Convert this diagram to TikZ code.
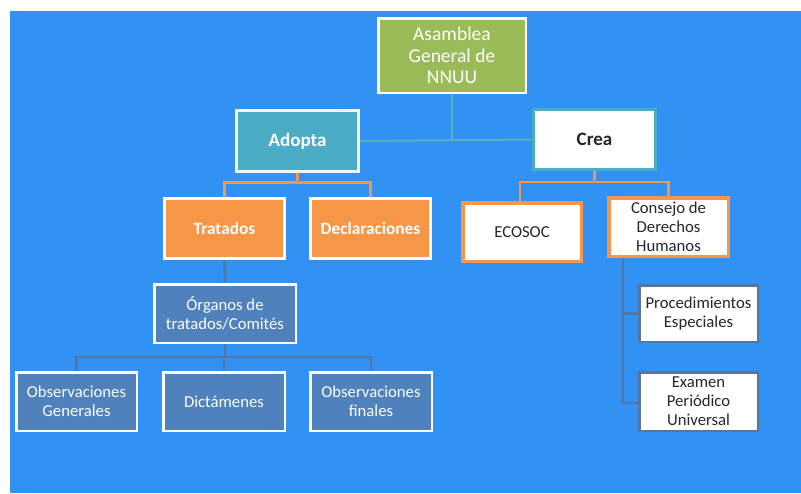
\documentclass[tikz,border=0pt]{standalone}
\usepackage{fontspec}
\setmainfont{Carlito}
\usetikzlibrary{backgrounds}
\definecolor{bgblue}{RGB}{50,146,243}
\definecolor{agreen}{RGB}{155,187,89}
\definecolor{ateal}{RGB}{75,172,198}
\definecolor{aorange}{RGB}{247,150,70}
\definecolor{aslate}{RGB}{79,129,189}
\definecolor{slateline}{RGB}{86,117,160}
\definecolor{tealline}{RGB}{88,176,190}
\definecolor{darktext}{RGB}{38,38,38}
\tikzset{
  box/.style={rectangle, inner sep=2pt, outer sep=0pt, align=center, font=\fontsize{16.7}{19}\selectfont},
  greenbox/.style={box, fill=agreen, draw=white, line width=2.5pt, text=white, font=\fontsize{19.5}{21.5}\selectfont},
  tealbox/.style={box, fill=ateal, draw=white!92!gray, line width=3pt, text=white, font=\bfseries\fontsize{19}{21}\selectfont},
  creabox/.style={box, fill=white, draw=ateal, line width=3pt, text=darktext, font=\bfseries\fontsize{19}{21}\selectfont},
  orangebox/.style={box, fill=aorange, draw=white, line width=3pt, text=white, font=\bfseries\fontsize{17.3}{19}\selectfont},
  orangeedge/.style={box, fill=white, draw=aorange, line width=3.5pt, text=darktext},
  slatebox/.style={box, fill=aslate, draw=white, line width=2.5pt, text=white},
  whitebox/.style={box, fill=white, draw=slateline, line width=2.5pt, text=darktext},
  tline/.style={draw=tealline, line width=2pt},
  oline/.style={draw=aorange, line width=2.5pt},
  sline/.style={draw=slateline, line width=2.5pt},
}
\begin{document}
\begin{tikzpicture}[x=1pt,y=-1pt]
\useasboundingbox (0,0) rectangle (801,493);

\node[greenbox, minimum width=147.5pt, minimum height=74.5pt] (asam) at (452,55.5) {Asamblea\\General de\\NNUU};
\node[tealbox, minimum width=122pt, minimum height=61pt] (adopta) at (297.5,141) {Adopta};
\node[creabox, minimum width=122pt, minimum height=60pt] (crea) at (594.5,139.5) {Crea};

\node[orangebox, minimum width=120pt, minimum height=60pt] (trat) at (224.5,228.5) {Tratados};
\node[orangebox, minimum width=120pt, minimum height=60pt] (decl) at (370.5,228.5) {Declaraciones};

\node[orangeedge, minimum width=118.5pt, minimum height=58.5pt] (ecosoc) at (522,232) {ECOSOC};
\node[orangeedge, minimum width=119.5pt, minimum height=58.5pt] (consejo) at (668.5,227) {Consejo de\\Derechos\\Humanos};

\node[slatebox, minimum width=141.5pt, minimum height=58.5pt] (org) at (225,313.5) {Órganos de\\tratados/Comités};

\node[slatebox, minimum width=120.5pt, minimum height=58.5pt] (obsg) at (76.5,401.5) {Observaciones\\Generales};
\node[slatebox, minimum width=121.5pt, minimum height=58.5pt] (dict) at (224,401.5) {Dictámenes};
\node[slatebox, minimum width=121.5pt, minimum height=58.5pt] (obsf) at (371,401.5) {Observaciones\\finales};

\node[whitebox, minimum width=118.5pt, minimum height=56.5pt] (proc) at (698.5,313.5) {Procedimientos\\Especiales};
\node[whitebox, minimum width=118.5pt, minimum height=58.5pt] (exam) at (698.5,401.5) {Examen\\Periódico\\Universal};

\begin{scope}[on background layer]
\fill[bgblue] (10,11) rectangle (801,493);
% connectors
\draw[tline] (adopta.east) -- (crea.west);
\draw[tline] (asam.south) -- (asam.south |- adopta.east);

\draw[oline] (adopta.south) -- ++(0,11) -| (trat.north);
\draw[oline] (adopta.south) -- ++(0,11) -| (decl.north);
\draw[oline] (crea.south) -- ++(0,12.5) -| ([xshift=-2pt]ecosoc.north);
\draw[oline] (crea.south) -- ++(0,12.5) -| (consejo.north);

\draw[sline] (trat.south) -- (org.north);
\draw[sline] (org.south) -- ++(0,14) -| (obsg.north);
\draw[sline] (org.south) -- ++(0,14) -| (dict.north);
\draw[sline] (org.south) -- ++(0,14) -| (obsf.north);

\coordinate (cs) at ([xshift=14pt]consejo.south west);
\draw[sline] (cs) |- (proc.west);
\draw[sline] (cs) |- ([yshift=-1.5pt]exam.west);
\end{scope}
\end{tikzpicture}
\end{document}
